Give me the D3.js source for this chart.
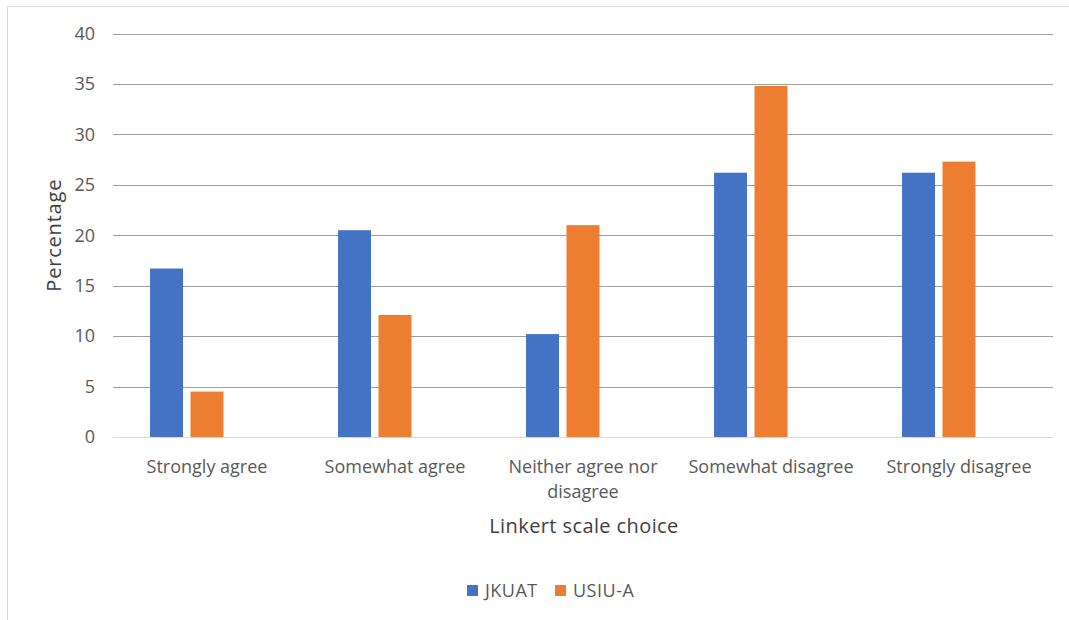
<!DOCTYPE html>
<html>
<head>
<meta charset="utf-8">
<script src="https://cdn.jsdelivr.net/npm/d3@7"></script>
<style>
  html, body { margin: 0; padding: 0; background: #fff; }
  svg { display: block; font-family: "Open Sans", "Liberation Sans", sans-serif; }
</style>
</head>
<body>
<svg id="chart" width="1069" height="620"></svg>
<script>
// Likert responses per university (percent)
const categories = ["Strongly agree", "Somewhat agree", "Neither agree nor disagree", "Somewhat disagree", "Strongly disagree"];
const seriesNames = ["JKUAT", "USIU-A"];
const jkuat = [16.7, 20.5, 10.2, 26.2, 26.2];
const usiu = [4.5, 12.1, 21.0, 34.8, 27.3];
const yTicks = [0, 5, 10, 15, 20, 25, 30, 35, 40];
const colors = ["#4472c4", "#ed7d31"];

const svg = d3.select("#chart");
const W = 1069, H = 620;
const plot = { left: 113, right: 1053, top: 33.5, bottom: 437 };

// chart frame (top and left edges)
svg.append("path")
  .attr("d", `M7.5,${H}V6.5H${W}`)
  .attr("fill", "none").attr("stroke", "#d9d9d9").attr("stroke-width", 1);

const x0 = d3.scaleBand().domain(categories).range([plot.left, plot.right]).paddingInner(0).paddingOuter(0);
// three slots per group: the two series plus an unused third slot
const slots = [...seriesNames, "_"];
const bw = x0.bandwidth();
const x1 = d3.scaleBand().domain(slots).range([bw * 0.197, bw * 0.803]).paddingInner(0.185).paddingOuter(0);
const y = d3.scaleLinear().domain([0, 40]).range([plot.bottom, plot.top]);

// gridlines
svg.append("g").selectAll("line").data(yTicks.filter(d => d > 0)).join("line")
  .attr("x1", plot.left).attr("x2", plot.right)
  .attr("y1", d => Math.round(y(d)) + 0.5).attr("y2", d => Math.round(y(d)) + 0.5)
  .attr("stroke", "#a0a0a0").attr("stroke-width", 1.2);

// y axis labels
const yAxis = d3.axisLeft(y).tickValues(yTicks).tickSize(0).tickPadding(0);
const gy = svg.append("g").attr("transform", `translate(${plot.left - 18},0)`).call(yAxis);
gy.select(".domain").remove();
gy.selectAll("text").attr("fill", "#595959").style("font-size", "18px")
  .style("font-family", "'Open Sans', sans-serif");

// bars
const rows = categories.map((c, i) => ({ cat: c, vals: [jkuat[i], usiu[i]] }));
const groups = svg.append("g").selectAll("g").data(rows).join("g")
  .attr("transform", d => `translate(${x0(d.cat)},0)`);
groups.selectAll("rect").data(d => d.vals.map((v, k) => ({ key: seriesNames[k], v, k })))
  .join("rect")
  .attr("x", d => x1(d.key))
  .attr("width", x1.bandwidth())
  .attr("y", d => y(d.v))
  .attr("height", d => y(0) - y(d.v))
  .attr("fill", d => colors[d.k]);

// baseline
svg.append("line")
  .attr("x1", plot.left).attr("x2", plot.right)
  .attr("y1", Math.round(y(0)) + 0.5).attr("y2", Math.round(y(0)) + 0.5)
  .attr("stroke", "#d9d9d9").attr("stroke-width", 1.2);

// x axis category labels, wrapped where the band is too narrow
const xLabelLines = {
  "Neither agree nor disagree": ["Neither agree nor", "disagree"]
};
const xl = svg.append("g").selectAll("text").data(categories).join("text")
  .attr("x", d => x0(d) + bw / 2)
  .attr("y", 473)
  .attr("text-anchor", "middle")
  .attr("fill", "#595959")
  .style("font-size", "18px");
xl.each(function(d) {
  const lines = xLabelLines[d] || [d];
  d3.select(this).selectAll("tspan").data(lines).join("tspan")
    .attr("x", x0(d) + bw / 2)
    .attr("dy", (l, i) => i === 0 ? 0 : 25)
    .text(l => l);
});

// axis titles
svg.append("text")
  .attr("x", (plot.left + plot.right) / 2 + 1).attr("y", 533)
  .attr("text-anchor", "middle").attr("fill", "#404040")
  .style("font-size", "20px").style("letter-spacing", "0.4px").text("Linkert scale choice");

svg.append("text")
  .attr("transform", `translate(61,${(plot.top + plot.bottom) / 2}) rotate(-90)`)
  .attr("text-anchor", "middle").attr("fill", "#404040")
  .style("font-size", "20px").style("letter-spacing", "0.8px").text("Percentage");

// legend
const legend = svg.append("g").attr("transform", "translate(467,585)");
const legendX = [0, 88];
seriesNames.forEach((name, i) => {
  const g = legend.append("g").attr("transform", `translate(${legendX[i]},0)`);
  g.append("rect").attr("width", 11).attr("height", 11).attr("fill", colors[i]);
  g.append("text").attr("x", 18).attr("y", 12).attr("fill", "#595959")
    .style("font-size", "18px").style("letter-spacing", "0.5px").text(name);
});
</script>
</body>
</html>
